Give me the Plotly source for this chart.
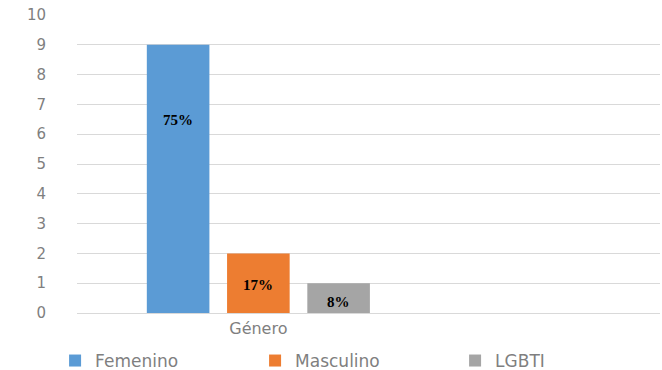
import plotly.graph_objects as go

category = ["Género"]
series_names = ["Femenino", "Masculino", "LGBTI"]
series_values = [9, 2, 1]
series_labels = ["75%", "17%", "8%"]
series_colors = ["#5B9BD5", "#ED7D31", "#A5A5A5"]
y_ticks = list(range(0, 11))

fig = go.Figure()
for name, val, col in zip(series_names, series_values, series_colors):
    fig.add_trace(go.Bar(
        x=category, y=[val], name=name,
        marker=dict(color=col, line=dict(width=0)),
        hoverinfo="skip",
    ))

# data labels, anchored to each bar's value through the axis scales
label_offsets_px = [75, 32, 19]
pitch_px = 80.5
for i, (val, lab) in enumerate(zip(series_values, series_labels)):
    fig.add_annotation(
        x=category[0], y=val, xref="x", yref="y",
        text=f"<b>{lab}</b>", showarrow=False,
        xshift=(i - 1) * pitch_px, yshift=-label_offsets_px[i],
        yanchor="middle", xanchor="center",
        font=dict(family="Liberation Serif", size=15, color="#000000"),
    )

fig.update_layout(
    width=662, height=370,
    margin=dict(l=77, r=2, t=15, b=57, autoexpand=False),
    paper_bgcolor="white", plot_bgcolor="white",
    barmode="group", bargap=0.4, bargroupgap=0.22,
    showlegend=True,
    legend=dict(
        orientation="h", xref="paper", yref="paper",
        x=-0.0376, xanchor="left", y=-0.161, yanchor="middle",
        font=dict(family="DejaVu Sans", size=17, color="#7f7f7f"),
        entrywidthmode="pixels", entrywidth=155,
        traceorder="normal",
    ),
    xaxis=dict(
        range=[-0.452, 1.001], showgrid=False, zeroline=False,
        showline=False, ticks="",
        tickfont=dict(family="DejaVu Sans", size=16, color="#7f7f7f"),
        ticklabelstandoff=4,
    ),
    yaxis=dict(
        range=[0, 10], tickvals=y_ticks, showgrid=True,
        gridcolor="#d9d9d9", gridwidth=1,
        zeroline=True, zerolinecolor="#d9d9d9", zerolinewidth=1,
        showline=False, ticks="",
        tickfont=dict(family="DejaVu Sans", size=15, color="#7f7f7f"),
        ticklabelstandoff=30,
    ),
)

fig.write_html("out.html")
